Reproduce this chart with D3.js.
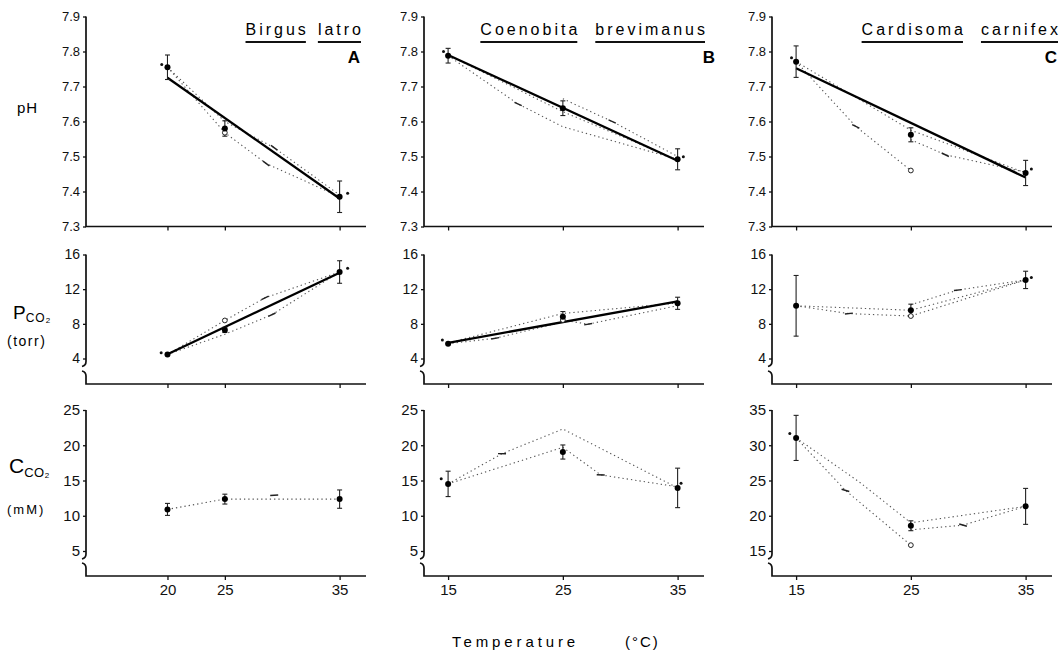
<!DOCTYPE html>
<html>
<head>
<meta charset="utf-8">
<script src="https://cdn.jsdelivr.net/npm/d3@7"></script>
<style>
  body { margin: 0; background: #fff; }
  svg { display: block; font-family: "Liberation Sans", Arial, Helvetica, sans-serif; }
  .tick text { font-family: "Liberation Sans", Arial, sans-serif; fill: #111; }
</style>
</head>
<body>
<svg id="chart" width="1060" height="655"></svg>
<script>
// Acid-base variables vs temperature in three land crabs (A, B, C)

const panelLetters = ['A', 'B', 'C'];
const titleWords = [['Birgus', 'latro'], ['Coenobita', 'brevimanus'], ['Cardisoma', 'carnifex']];
const temps = [[20, 25, 35], [15, 25, 35], [15, 25, 35]];
const tempDomain = [12.9, 37.3];

const phTicks = [7.3, 7.4, 7.5, 7.6, 7.7, 7.8, 7.9];
const pco2Ticks = [4, 8, 12, 16];
const cco2Ticks = [[5, 10, 15, 20, 25], [5, 10, 15, 20, 25], [15, 20, 25, 30, 35]];

// pH
const phMean = [[7.755, 7.58, 7.385], [7.788, 7.638, 7.492], [7.771, 7.562, 7.453]];
const phErr = [[0.035, 0.022, 0.045], [0.021, 0.021, 0.03], [0.045, 0.02, 0.036]];
const phFit = [[[20, 7.725], [35, 7.38]], [[15, 7.79], [35, 7.488]], [[15, 7.752], [35, 7.44]]];
const phOpen = [[[25, 7.568]], [], [[25, 7.46]]];
const phSmall = [[[19.5, 7.763], [35.7, 7.395]], [[14.6, 7.8], [35.5, 7.499]], [[14.6, 7.782], [35.5, 7.464]]];
const phDotted = [
  [[[20, 7.755], [25, 7.568], [28.6, 7.48], [35, 7.385]], [[20, 7.755], [25, 7.6], [29.3, 7.525], [35, 7.39]]],
  [[[15, 7.788], [21.1, 7.65], [25, 7.585], [35, 7.492]], [[15, 7.79], [25, 7.628], [35, 7.49]], [[25, 7.665], [29.3, 7.6], [35, 7.5]]],
  [[[15, 7.771], [20.2, 7.586], [25, 7.46]], [[15, 7.771], [25, 7.575], [35, 7.453]], [[25, 7.548], [28, 7.505], [35, 7.455]]]
];
const phArrows = [[[28.6, 7.48], [29.3, 7.525]], [[21.1, 7.65], [29.3, 7.6]], [[20.2, 7.586], [28, 7.505]]];

// PCO2 (torr)
const pco2Mean = [[4.47, 7.3, 13.98], [5.71, 8.82, 10.37], [10.08, 9.57, 13.07]];
const pco2Err = [[0, 0.3, 1.3], [0, 0.6, 0.7], [3.5, 0.7, 1.0]];
const pco2Fit = [[[20, 4.5], [35, 13.9]], [[15, 5.8], [35, 10.6]], []];
const pco2Open = [[[25, 8.39]], [[25, 8.43]], [[25, 8.9]]];
const pco2Small = [[[19.45, 4.66], [35.7, 14.4]], [[14.5, 6.14]], [[35.5, 13.35]]];
const pco2Dotted = [
  [[[20, 4.47], [25, 8.39], [28.5, 11.0], [35, 13.98]], [[20, 4.47], [25, 6.8], [29.1, 9.05], [35, 13.98]]],
  [[[15, 5.71], [19.1, 6.33], [25, 8.2]], [[15, 5.8], [25, 9.2], [35, 10.4]], [[25, 8.43], [27.2, 7.96], [35, 10.1]]],
  [[[15, 10.08], [19.6, 9.18], [25, 8.9], [35, 13.07]], [[15, 10.08], [25, 9.57], [35, 13.07]], [[25, 10.2], [29.1, 11.9], [35, 13.07]]]
];
const pco2Arrows = [[[28.5, 11.0], [29.1, 9.05]], [[19.1, 6.33], [27.2, 7.96]], [[19.6, 9.18], [29.1, 11.9]]];

// CCO2 (mM)
const cco2Mean = [[10.9, 12.36, 12.36], [14.52, 19.04, 13.95], [31.04, 18.58, 21.33]];
const cco2Err = [[0.85, 0.7, 1.3], [1.8, 1.0, 2.8], [3.2, 0.7, 2.55]];
const cco2Fit = [[], [], []];
const cco2Open = [[], [], [[25, 15.83]]];
const cco2Small = [[], [[14.4, 15.24], [35.3, 14.6]], [[14.45, 31.66]]];
const cco2Dotted = [
  [[[20, 10.9], [25, 12.36], [35, 12.36]]],
  [[[15, 14.52], [19.7, 18.8], [25, 22.3], [35, 13.95]], [[15, 14.52], [25, 19.7], [28.3, 15.8], [35, 14.1]]],
  [[[15, 31.04], [19.3, 23.6], [25, 15.83]], [[15, 31.04], [20.5, 24.8], [25, 19.0], [35, 21.33]], [[25, 18.0], [29.55, 18.67], [35, 21.33]]]
];
const cco2Arrows = [[[29.3, 12.9]], [[19.7, 18.8], [28.3, 15.8]], [[19.3, 23.6], [29.55, 18.67]]];

// ---- layout ----
const svg = d3.select('#chart');
const panelLeft = [86, 424, 772];
const plotW = 280;
const titleRight = [361, 705, 1058];
const letterRight = [360, 715, 1057];

const x = d3.scaleLinear().domain(tempDomain).range([0, plotW]);

const rows = [
  { ticks: [phTicks, phTicks, phTicks], mean: phMean, err: phErr, fit: phFit, open: phOpen, small: phSmall,
    dotted: phDotted, arrows: phArrows, fmt: d3.format('.1f'), brk: false, high: 16.5, low: 226.5, base: 226.5, font: 13, xLabels: false },
  { ticks: [pco2Ticks, pco2Ticks, pco2Ticks], mean: pco2Mean, err: pco2Err, fit: pco2Fit, open: pco2Open, small: pco2Small,
    dotted: pco2Dotted, arrows: pco2Arrows, fmt: d3.format('d'), brk: true, high: 254.5, low: 358.5, base: 384, font: 14, xLabels: false },
  { ticks: cco2Ticks, mean: cco2Mean, err: cco2Err, fit: cco2Fit, open: cco2Open, small: cco2Small,
    dotted: cco2Dotted, arrows: cco2Arrows, fmt: d3.format('d'), brk: true, high: 410, low: 551, base: 576, font: 15, xLabels: true }
];

function drawPanel(col, row) {
  const g = svg.append('g').attr('transform', `translate(${panelLeft[col]},0)`);
  const ticks = row.ticks[col];
  const y = d3.scaleLinear().domain(d3.extent(ticks)).range([row.low, row.high]);
  const line = d3.line().x(d => x(d[0])).y(d => y(d[1]));

  // y axis ticks
  g.append('g')
    .call(d3.axisLeft(y).tickValues(ticks).tickSize(3).tickPadding(3).tickFormat(row.fmt))
    .call(a => a.select('.domain').remove())
    .call(a => a.selectAll('line').attr('stroke', '#111').attr('stroke-width', 1.3))
    .call(a => a.selectAll('text').style('font-size', row.font + 'px'));

  // x axis ticks
  g.append('g')
    .attr('transform', `translate(0,${row.base})`)
    .call(d3.axisBottom(x).tickValues(temps[col]).tickSize(4).tickPadding(4)
      .tickFormat(row.xLabels ? d3.format('d') : ''))
    .call(a => a.select('.domain').remove())
    .call(a => a.selectAll('line').attr('stroke', '#111').attr('stroke-width', 1.3))
    .call(a => a.selectAll('text').style('font-size', '15px'));

  // axis frame (with break on the lower rows)
  const frame = g.append('g').attr('fill', 'none').attr('stroke', '#111').attr('stroke-width', 1.7);
  if (row.brk) {
    frame.append('path').attr('d',
      `M0,${row.high} L0,${row.low + 3} Q0,${row.low + 7} -4,${row.low + 8}`);
    frame.append('path').attr('d',
      `M-4,${row.base - 13} Q0,${row.base - 12} 0,${row.base - 8} L0,${row.base} L${plotW},${row.base}`);
  } else {
    frame.append('path').attr('d', `M0,${row.high} L0,${row.base} L${plotW},${row.base}`);
  }

  // dotted individual/series lines
  g.append('g').selectAll('path')
    .data(row.dotted[col])
    .join('path')
    .attr('d', line)
    .attr('fill', 'none')
    .attr('stroke', '#555')
    .attr('stroke-width', 1.1)
    .attr('stroke-dasharray', '1.3 3');

  // short arrow-like dashes, oriented along the mean trend
  const m = row.mean[col], t = temps[col];
  const dx = x(t[2]) - x(t[0]), dy = y(m[2]) - y(m[0]);
  const len = Math.hypot(dx, dy);
  const ux = dx / len, uy = dy / len;
  g.append('g').selectAll('line')
    .data(row.arrows[col])
    .join('line')
    .attr('x1', d => x(d[0]) - ux * 4)
    .attr('y1', d => y(d[1]) - uy * 4)
    .attr('x2', d => x(d[0]) + ux * 4)
    .attr('y2', d => y(d[1]) + uy * 4)
    .attr('stroke', '#222')
    .attr('stroke-width', 1.4);

  // regression line
  if (row.fit[col].length) {
    g.append('path')
      .datum(row.fit[col])
      .attr('d', line)
      .attr('fill', 'none')
      .attr('stroke', '#000')
      .attr('stroke-width', 2.3);
  }

  // error bars
  const pts = t.map((tt, i) => ({ t: tt, v: m[i], e: row.err[col][i] }));
  const eb = g.append('g').attr('stroke', '#222').attr('stroke-width', 1.1);
  pts.filter(p => p.e > 0).forEach(p => {
    eb.append('line').attr('x1', x(p.t)).attr('x2', x(p.t)).attr('y1', y(p.v - p.e)).attr('y2', y(p.v + p.e));
    eb.append('line').attr('x1', x(p.t) - 2.5).attr('x2', x(p.t) + 2.5).attr('y1', y(p.v - p.e)).attr('y2', y(p.v - p.e));
    eb.append('line').attr('x1', x(p.t) - 2.5).attr('x2', x(p.t) + 2.5).attr('y1', y(p.v + p.e)).attr('y2', y(p.v + p.e));
  });

  // open circles
  g.append('g').selectAll('circle')
    .data(row.open[col])
    .join('circle')
    .attr('cx', d => x(d[0]))
    .attr('cy', d => y(d[1]))
    .attr('r', 2.4)
    .attr('fill', '#fff')
    .attr('stroke', '#222')
    .attr('stroke-width', 1);

  // small dots
  g.append('g').selectAll('circle')
    .data(row.small[col])
    .join('circle')
    .attr('cx', d => x(d[0]))
    .attr('cy', d => y(d[1]))
    .attr('r', 1.5)
    .attr('fill', '#111');

  // mean points
  g.append('g').selectAll('circle')
    .data(pts)
    .join('circle')
    .attr('cx', d => x(d.t))
    .attr('cy', d => y(d.v))
    .attr('r', 3)
    .attr('fill', '#000');
}

rows.forEach(row => [0, 1, 2].forEach(col => drawPanel(col, row)));

// species titles, each word underlined
const spacing = 3;
titleWords.forEach((words, col) => {
  const tg = svg.append('g');
  const texts = words.map(w => tg.append('text')
    .attr('y', 35)
    .style('font-size', '16px')
    .style('letter-spacing', spacing + 'px')
    .text(w));
  const widths = texts.map(tx => tx.node().getComputedTextLength() - spacing);
  const gap = col === 0 ? 12 : 18;
  const x2 = titleRight[col] - widths[1];
  const x1 = x2 - gap - widths[0];
  [x1, x2].forEach((xx, i) => {
    texts[i].attr('x', xx);
    tg.append('line')
      .attr('x1', xx).attr('x2', xx + widths[i])
      .attr('y1', 42).attr('y2', 42)
      .attr('stroke', '#111').attr('stroke-width', 1.8);
  });
  svg.append('text')
    .attr('x', letterRight[col])
    .attr('y', 63)
    .attr('text-anchor', 'end')
    .style('font-size', '17px')
    .style('font-weight', 'bold')
    .text(panelLetters[col]);
});

// row labels
svg.append('text').attr('x', 17).attr('y', 113)
  .style('font-size', '15px').style('letter-spacing', '1px').text('pH');

const pLab = svg.append('text').attr('x', 13).attr('y', 319);
pLab.append('tspan').style('font-size', '19px').text('P');
pLab.append('tspan').attr('dy', 3).style('font-size', '12px').style('letter-spacing', '1px').text('CO');
pLab.append('tspan').attr('dy', 1).style('font-size', '8px').text('2');
svg.append('text').attr('x', 7).attr('y', 346)
  .style('font-size', '14px').style('letter-spacing', '1.5px').text('(torr)');

const cLab = svg.append('text').attr('x', 9).attr('y', 473);
cLab.append('tspan').style('font-size', '21px').text('C');
cLab.append('tspan').attr('dy', 4).style('font-size', '13px').style('letter-spacing', '0.5px').text('CO');
cLab.append('tspan').attr('dy', 1).style('font-size', '8px').text('2');
svg.append('text').attr('x', 7).attr('y', 514)
  .style('font-size', '13px').style('letter-spacing', '2px').text('(mM)');

// shared x-axis title
svg.append('text').attr('x', 452).attr('y', 647)
  .style('font-size', '15px').style('letter-spacing', '3.9px').text('Temperature');
svg.append('text').attr('x', 625).attr('y', 647)
  .style('font-size', '15px').style('letter-spacing', '2px').text('(°C)');
</script>
</body>
</html>
